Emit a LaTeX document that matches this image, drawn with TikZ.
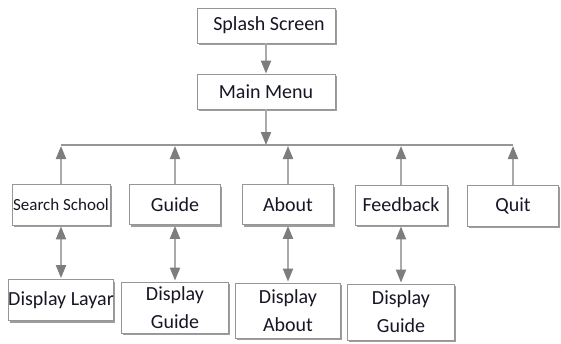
\documentclass[tikz,border=0pt]{standalone}
\usepackage{fontspec}
\setmainfont{Carlito}
\usetikzlibrary{arrows.meta,shadows}

\definecolor{boxline}{RGB}{150,150,150}
\definecolor{arrowgray}{RGB}{125,125,125}
\definecolor{shaftgray}{RGB}{170,170,170}
\definecolor{linkgray}{RGB}{150,150,150}
\definecolor{inkcol}{RGB}{22,22,38}

\tikzset{
  screen/.style={draw=boxline, line width=0.8pt, fill=white, inner sep=0pt,
    text=inkcol, align=center, font=\fontsize{20}{28}\selectfont,
    drop shadow={shadow xshift=1.5pt, shadow yshift=-2.2pt, opacity=0.55, fill=black!70}},
  headtip/.tip={Triangle[length=13pt,width=10pt,color=arrowgray]},
  flow/.style={draw=shaftgray, line width=2pt, -headtip},
  twoway/.style={draw=shaftgray, line width=2pt, headtip-headtip},
  bus/.style={draw=linkgray, line width=1.5pt}
}

\begin{document}
\begin{tikzpicture}[x=1pt, y=-1pt]
  \useasboundingbox (0,0) rectangle (561,343);

  % top of the menu tree
  \node[screen, minimum width=138pt, minimum height=35pt] (splash) at (266,25.5) {\hspace*{6pt}Splash Screen};
  \node[screen, minimum width=138pt, minimum height=35pt] (main) at (266,91.5) {Main Menu};

  % menu entries
  \node[screen, minimum width=98pt, minimum height=41pt, font=\fontsize{17}{20}\selectfont] (search) at (61,204.5) {Search School};
  \node[screen, minimum width=91pt, minimum height=40pt] (guide) at (175,204.5) {Guide};
  \node[screen, minimum width=91pt, minimum height=40pt] (about) at (288,204.5) {About};
  \node[screen, minimum width=92pt, minimum height=40pt] (feedback) at (401,205) {Feedback};
  \node[screen, minimum width=91pt, minimum height=41pt] (quit) at (513,205.5) {Quit};

  % detail screens
  \node[screen, minimum width=99pt, minimum height=41pt] (layar) at (61,300) {Display Layar};
  \node[screen, minimum width=107pt, minimum height=51pt] (dguide) at (175,307.5) {Display\\Guide};
  \node[screen, minimum width=105pt, minimum height=55pt] (dabout) at (288,310.5) {Display\\About};
  \node[screen, minimum width=107pt, minimum height=56pt] (dfeed) at (401,312) {Display\\Guide};

  % branching bar
  \coordinate (hub) at (266,145);
  \coordinate (barL) at (61,145);
  \coordinate (barR) at (513,145);

  \draw[flow] (splash.south) -- (main.north);
  \draw[flow] (main.south) -- (hub);
  \draw[bus] (barL) -- (barR);

  \foreach \n in {search,guide,about,feedback,quit}
    \draw[flow] (\n.north) -- ([yshift=-1pt]\n.north |- hub);

  \draw[twoway] ([yshift=-1pt]search.south) -- ([yshift=1pt]search.south |- layar.north);
  \draw[twoway] ([yshift=-1pt]guide.south) -- ([yshift=1pt]guide.south |- dguide.north);
  \draw[twoway] ([yshift=-1pt]about.south) -- ([yshift=1pt]about.south |- dabout.north);
  \draw[twoway] ([yshift=-1pt]feedback.south) -- ([yshift=1pt]feedback.south |- dfeed.north);
\end{tikzpicture}
\end{document}
